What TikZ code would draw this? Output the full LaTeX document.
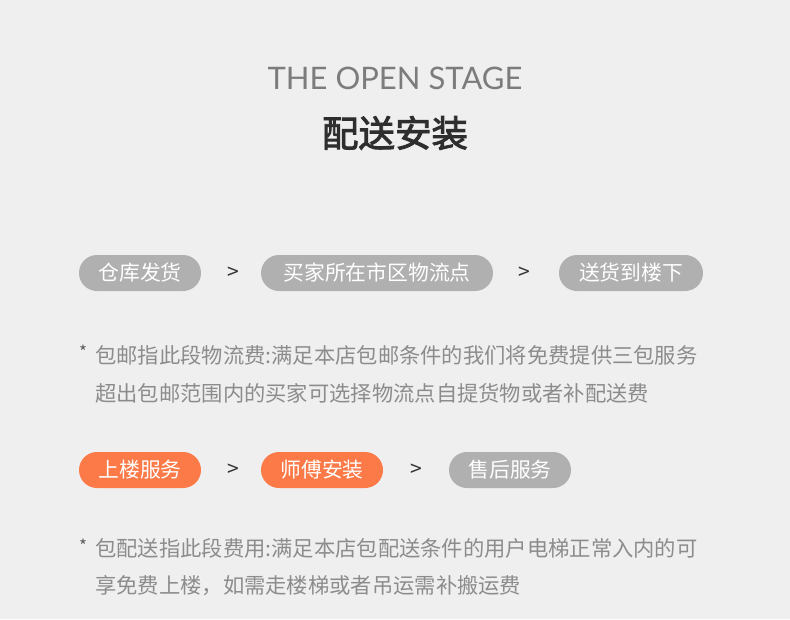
\documentclass[tikz,border=0pt]{standalone}
\usepackage{fontspec}
\setmainfont{Noto Sans CJK SC}
\newfontfamily\latinthin{Lato}
\newfontfamily\headfont{Noto Sans CJK SC}[BoldFont={Noto Sans CJK SC},BoldFeatures={FakeBold=2.5}]
\definecolor{bg}{HTML}{F0EFEF}
\definecolor{pillgray}{HTML}{B0B0B0}
\definecolor{pillorange}{HTML}{FB7A48}
\definecolor{titlegray}{HTML}{7C7C7C}
\definecolor{headdark}{HTML}{2E2E2E}
\definecolor{notegray}{HTML}{8C8C8C}
\definecolor{arrowdark}{HTML}{333333}
\tikzset{
  pill/.style={rounded corners=18pt, minimum height=36pt, inner sep=0pt, text=white,
    font=\fontsize{20.8}{24}\selectfont},
  graypill/.style={pill, fill=pillgray},
  orangepill/.style={pill, fill=pillorange},
  sepmark/.style={text=arrowdark, font=\fontsize{21}{24}\selectfont, inner sep=0pt},
  note/.style={anchor=west, inner sep=0pt, text=notegray, font=\fontsize{21.3}{24}\selectfont},
  star/.style={inner sep=0pt, text=arrowdark!80, font=\fontsize{17}{18}\selectfont}
}
\begin{document}
\begin{tikzpicture}[x=1pt,y=-1pt]
\fill[bg] (0,0) rectangle (790,619);
\useasboundingbox (0,0) rectangle (790,619);

\node[text=titlegray, font=\latinthin\fontsize{31}{34}\selectfont, inner sep=0pt] (title) at (395,78) {THE OPEN STAGE};
\node[text=headdark, font=\headfont\bfseries\fontsize{36.5}{40}\selectfont, inner sep=0pt] (head) at (395,133) {配送安装};

% row 1
\node[graypill, minimum width=122pt] (p1) at (140,273) {仓库发货};
\node[sepmark] (s1) at (233,273) {>};
\node[graypill, minimum width=232pt] (p2) at (377,273) {买家所在市区物流点};
\node[sepmark] (s2) at (524,273) {>};
\node[graypill, minimum width=144pt] (p3) at (631,273) {送货到楼下};

\node[star] (st1) at (83,352) {*};
\node[note] (n1) at (95,355) {包邮指此段物流费:满足本店包邮条件的我们将免费提供三包服务};
\node[note] (n2) at (95,393) {超出包邮范围内的买家可选择物流点自提货物或者补配送费};

% row 2
\node[orangepill, minimum width=122pt] (q1) at (140,470) {上楼服务};
\node[sepmark] (t1) at (233,470) {>};
\node[orangepill, minimum width=122pt] (q2) at (322,470) {师傅安装};
\node[sepmark] (t2) at (416,470) {>};
\node[graypill, minimum width=122pt] (q3) at (510,470) {售后服务};

\node[star] (st2) at (83,546) {*};
\node[note] (n3) at (95,548) {包配送指此段费用:满足本店包配送条件的用户电梯正常入内的可};
\node[note] (n4) at (95,586) {享免费上楼，如需走楼梯或者吊运需补搬运费};
\end{tikzpicture}
\end{document}
